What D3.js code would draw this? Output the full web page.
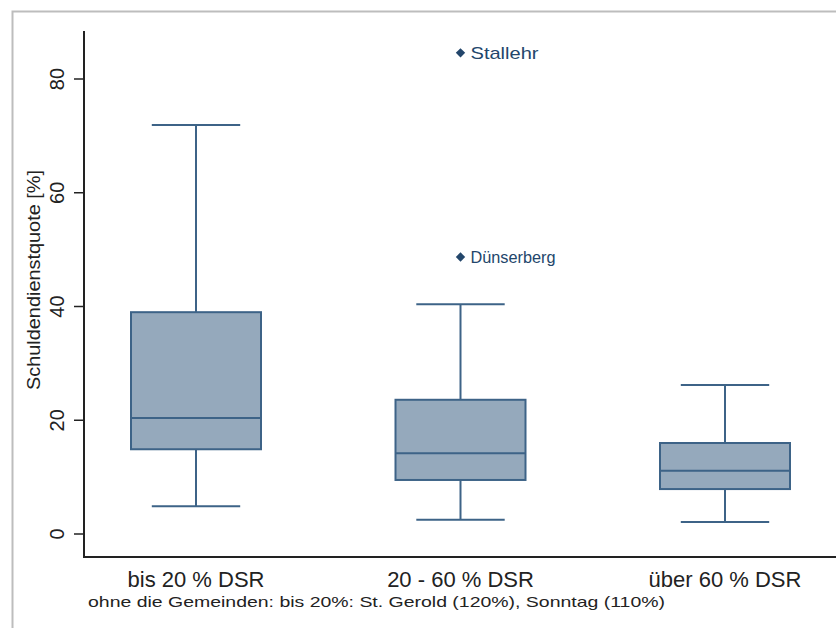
<!DOCTYPE html>
<html>
<head>
<meta charset="utf-8">
<script src="https://cdn.jsdelivr.net/npm/d3@7"></script>
<style>
body { margin: 0; background: #fff; }
text { font-family: Arial, "Liberation Sans", sans-serif; }
</style>
</head>
<body>
<script>
// Schuldendienstquote nach DSR-Gruppe
var kategorien = ["bis 20 % DSR", "20 - 60 % DSR", "über 60 % DSR"];
var unten  = [4.9, 2.5, 2.1];
var q1     = [14.9, 9.5, 7.9];
var median = [20.4, 14.2, 11.1];
var q3     = [39.0, 23.6, 16.0];
var oben   = [71.9, 40.4, 26.2];
var ausreisser = [
  {gruppe: "20 - 60 % DSR", wert: 84.6, name: "Stallehr"},
  {gruppe: "20 - 60 % DSR", wert: 48.7, name: "Dünserberg"}
];
var yTicks = [0, 20, 40, 60, 80];
var fussnote = "ohne die Gemeinden: bis 20%: St. Gerold (120%), Sonntag (110%)";

var W = 836, H = 628;
var boxFill = "#95a9bc", boxStroke = "#3d6387", markFarbe = "#23466b";

var svg = d3.select("body").append("svg").attr("width", W).attr("height", H);

// grauer Rahmen
svg.append("rect").attr("x", 12.5).attr("y", 11.5).attr("width", W).attr("height", H)
  .attr("fill", "none").attr("stroke", "#bdbdbd").attr("stroke-width", 2);

var pLeft = 84, pTop = 31, pBottom = 557;

var y = d3.scaleLinear().domain([0, 80]).range([534, 79]);
var x = d3.scalePoint().domain(kategorien).range([196, 725]);
var bw = 130;

// y-Achse
var yAxis = svg.append("g").attr("transform", "translate(" + pLeft + ",0)")
  .call(d3.axisLeft(y).tickValues(yTicks).tickSize(10).tickPadding(6));
yAxis.select(".domain").remove();
yAxis.selectAll(".tick").attr("transform", null);
yAxis.selectAll(".tick line")
  .attr("y1", function(d) { return y(d); }).attr("y2", function(d) { return y(d); })
  .attr("stroke", "#222").attr("stroke-width", 1.5);
yAxis.selectAll(".tick text")
  .attr("font-size", 20).attr("fill", "#222")
  .attr("text-anchor", "middle").attr("dy", null).attr("x", 0).attr("y", 0)
  .attr("transform", function(d) { return "translate(-20," + y(d) + ") rotate(-90)"; });

svg.append("line").attr("x1", pLeft).attr("x2", pLeft).attr("y1", pTop).attr("y2", pBottom + 1)
  .attr("stroke", "#222").attr("stroke-width", 2);
svg.append("line").attr("x1", pLeft).attr("x2", W).attr("y1", pBottom).attr("y2", pBottom)
  .attr("stroke", "#222").attr("stroke-width", 2);

svg.append("text")
  .attr("transform", "translate(40,280) rotate(-90)")
  .attr("text-anchor", "middle").attr("font-size", 19).attr("fill", "#222")
  .attr("textLength", 220).attr("lengthAdjust", "spacingAndGlyphs")
  .text("Schuldendienstquote [%]");

// Boxen
var gruppen = svg.selectAll("g.box").data(kategorien).enter().append("g").attr("class", "box");

gruppen.each(function(k, i) {
  var g = d3.select(this);
  var cx = x(k);
  var capW = bw * 0.68;
  function linie(x1, x2, y1, y2) {
    g.append("line").attr("x1", x1).attr("x2", x2).attr("y1", y1).attr("y2", y2)
      .attr("stroke", boxStroke).attr("stroke-width", 2);
  }
  linie(cx, cx, y(oben[i]), y(q3[i]));
  linie(cx, cx, y(q1[i]), y(unten[i]));
  linie(cx - capW / 2, cx + capW / 2, y(oben[i]), y(oben[i]));
  linie(cx - capW / 2, cx + capW / 2, y(unten[i]), y(unten[i]));
  g.append("rect").attr("x", cx - bw / 2).attr("width", bw)
    .attr("y", y(q3[i])).attr("height", y(q1[i]) - y(q3[i]))
    .attr("fill", boxFill).attr("stroke", boxStroke).attr("stroke-width", 2);
  linie(cx - bw / 2, cx + bw / 2, y(median[i]), y(median[i]));
});

// Ausreißer
var sym = d3.symbol().type(d3.symbolSquare).size(44);
svg.selectAll("path.aus").data(ausreisser).enter().append("path")
  .attr("class", "aus")
  .attr("transform", function(d) { return "translate(" + x(d.gruppe) + "," + y(d.wert) + ") rotate(45)"; })
  .attr("d", sym).attr("fill", markFarbe);
svg.selectAll("text.aus").data(ausreisser).enter().append("text")
  .attr("class", "aus")
  .attr("x", function(d) { return x(d.gruppe) + 10; })
  .attr("y", function(d) { return y(d.wert); })
  .attr("dy", "0.36em").attr("font-size", 17).attr("fill", markFarbe)
  .attr("textLength", function(d) { return d.name.length * 8.5; })
  .attr("lengthAdjust", "spacingAndGlyphs")
  .text(function(d) { return d.name; });

// Kategorien
svg.selectAll("text.kat").data(kategorien).enter().append("text")
  .attr("class", "kat")
  .attr("x", function(k) { return x(k); })
  .attr("y", 587).attr("text-anchor", "middle").attr("font-size", 22).attr("fill", "#222")
  .text(function(k) { return k; });

svg.append("text").attr("x", 88).attr("y", 607).attr("font-size", 15).attr("fill", "#222")
  .attr("textLength", 577).attr("lengthAdjust", "spacingAndGlyphs")
  .text(fussnote);
</script>
</body>
</html>
